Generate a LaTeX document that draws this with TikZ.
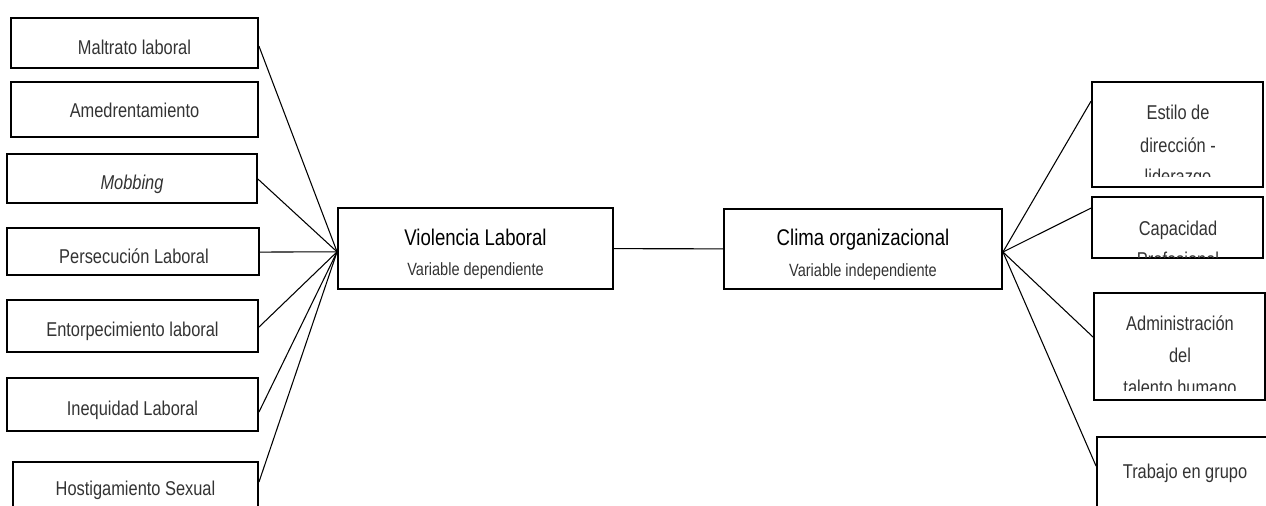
\documentclass[tikz,border=0pt]{standalone}
\usepackage{fontspec}
\setmainfont{Liberation Sans}[FakeStretch=0.82]
\usepackage{tikz}
\usetikzlibrary{positioning}
\usetikzlibrary{fit}

\tikzset{
  box/.style={draw, line width=1.4pt, inner sep=0pt},
  wire/.style={line width=0.8pt},
  lbl/.style={text=black!80, font=\fontsize{15}{18}\selectfont, inner sep=0pt, anchor=base},
  ttl/.style={text=black, font=\fontsize{17}{20}\selectfont, inner sep=0pt, anchor=base},
  sub/.style={text=black!80, font=\fontsize{13.3}{16}\selectfont, inner sep=0pt, anchor=base},
}

\begin{document}
\begin{tikzpicture}[x=0.75pt,y=-0.75pt]
        \clip (0,0) rectangle (1266,506);
        % manifestaciones (izquierda)
        \node[box, fit={(11,18) (258,68)}] (m1) {};
        \node[box, fit={(11,82) (258,137)}] (m2) {};
        \node[box, fit={(7,154) (257,203)}] (m3) {};
        \node[box, fit={(7,228) (259,275)}] (m4) {};
        \node[box, fit={(7,300) (258,352)}] (m5) {};
        \node[box, fit={(7,378) (258,431)}] (m6) {};
        \node[box, fit={(13,462) (258,530)}] (m7) {};
        % variables
        \node[box, fit={(338,208) (613,289)}] (vl) {};
        \node[box, fit={(724,209) (1002,289)}] (cl) {};
        % dimensiones (derecha)
        \node[box, fit={(1092,82) (1263,187)}] (d1) {};
        \node[box, fit={(1092,197) (1263,258)}] (d2) {};
        \node[box, fit={(1094,293) (1265,400)}] (d3) {};
        \node[box, fit={(1097,437) (1290,540)}] (d4) {};

        \foreach \b/\s in {m1/-21.75pt, m3/-19.5pt, m4/-18.75pt, m5/-21pt, m6/-26.25pt, m7/-15.75pt}
            \draw[wire] ([yshift=\s]\b.north east) -- ([yshift=-2.5pt]vl.west);
        \draw[wire] (vl) -- (cl);
        \foreach \b/\s in {d1/-15pt, d2/-9pt, d3/-33.75pt, d4/-22.5pt}
            \draw[wire] ([yshift=-2.25pt]cl.east) -- ([yshift=\s]\b.north west);

        \node[lbl] (m1t) at (134.5,55) {Maltrato laboral};
        \node[lbl] (m2t) at (134.5,118) {Amedrentamiento};
        \begin{scope}
            \clip (7,154) rectangle (257,193);
            \node[lbl] (m3t) at (132,190) {\textit{Mobbing}};
        \end{scope}
        \node[lbl] (m4t) at (134,263) {Persecución Laboral};
        \node[lbl] (m5t) at (132.5,336) {Entorpecimiento laboral};
        \node[lbl] (m6t) at (132.5,415) {Inequidad Laboral};
        \begin{scope}
            \clip (13,462) rectangle (258,499);
            \node[lbl] (m7t) at (135.5,495) {Hostigamiento Sexual};
        \end{scope}

        \node[ttl] (vlt) at (475.5,245) {Violencia Laboral};
        \node[sub] (vls) at (475.5,275) {Variable dependiente};
        \node[ttl] (clt) at (863,245) {Clima organizacional};
        \node[sub] (cls) at (863,276) {Variable independiente};

        \begin{scope}
            \clip (1092,82) rectangle (1263,176);
            \node[lbl] (d1a) at (1178,120) {Estilo de};
            \node[lbl] (d1b) at (1178,152) {dirección -};
            \node[lbl] (d1c) at (1178,184) {liderazgo};
        \end{scope}
        \begin{scope}
            \clip (1092,197) rectangle (1263,257);
            \node[lbl] (d2a) at (1178,235) {Capacidad};
            \node[lbl] (d2b) at (1178,266) {Profesional};
        \end{scope}
        \begin{scope}
            \clip (1094,293) rectangle (1265,390);
            \node[lbl] (d3a) at (1180,330) {Administración};
            \node[lbl] (d3b) at (1180,362) {del};
            \node[lbl] (d3c) at (1180,394) {talento humano};
        \end{scope}
        \node[lbl] (d4t) at (1185,478) {Trabajo en grupo};
    \end{tikzpicture}
\end{document}
